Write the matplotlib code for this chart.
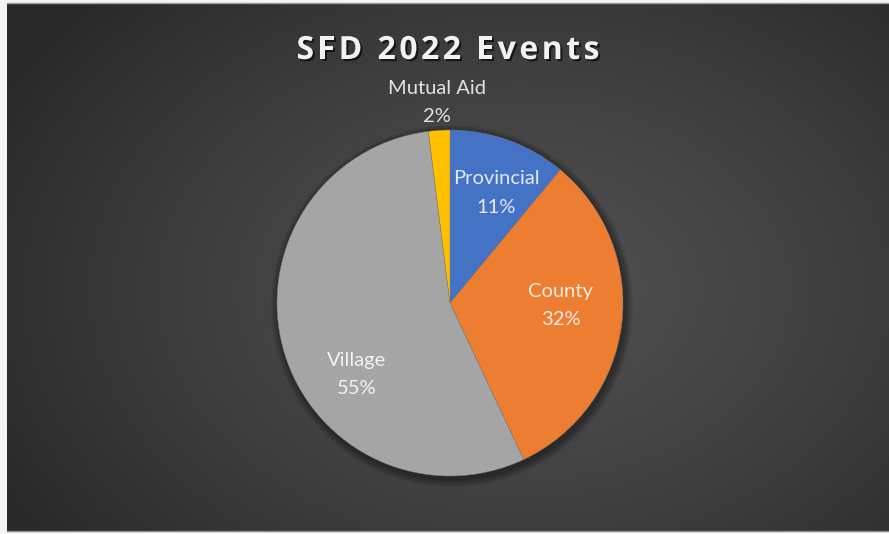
import numpy as np
import matplotlib
matplotlib.use("Agg")
import matplotlib.pyplot as plt
import matplotlib.patheffects as pe
from matplotlib.patches import Circle
from matplotlib.font_manager import FontProperties, findfont
from matplotlib.ft2font import FT2Font

# ---- data ----
categories = ["Provincial", "County", "Village", "Mutual Aid"]
values = [11, 32, 55, 2]
colors = ["#4472C4", "#ED7D31", "#A5A5A5", "#FFC000"]
title = "SFD 2022 Events"

# ---- style / layout ----
W, H = 889, 534
label_dist = [0.69, 0.64, 0.68, 1.16]
label_rot = [-3, 6, 21, 0]   # angular nudges (degrees) for label placement

fig = plt.figure(figsize=(W / 100, H / 100), dpi=100)
fig.patch.set_facecolor("#f4f4f4")

# background chart area with radial gradient
bg = fig.add_axes([0, 0, 1, 1])
yy, xx = np.mgrid[0:H, 0:W]
d = np.sqrt(((xx - 520) / 600.0) ** 2 + ((yy - 290) / 430.0) ** 2)
d = np.clip(d, 0, 1)
val = 0x50 - (0x50 - 0x29) * d ** 1.3
img = np.dstack([val, val, val]) / 255.0
bg.imshow(img, extent=(7, W, 3, 531), origin="upper", zorder=0, aspect="auto",
          interpolation="bilinear")
bg.plot([7, W], [531, 531], color="#9a9a9a", lw=1, zorder=1)
bg.plot([7, W], [3.5, 3.5], color="#8a8a8a", lw=1, zorder=1)

cx, cy, R = 450, H - 303, 173

# soft shadow under the pie
for k in range(8):
    bg.add_patch(Circle((cx + 2, cy - 3), R + 1 + k, facecolor="black",
                        edgecolor="none", alpha=0.05, zorder=1.5))

wedges, _ = bg.pie(values, colors=colors, startangle=90, counterclock=False,
                   center=(cx, cy), radius=R, frame=True,
                   wedgeprops=dict(edgecolor="#7a7a7a", linewidth=0.3, zorder=2))
bg.set_xlim(0, W)
bg.set_ylim(0, H)
bg.axis("off")

total = sum(values)
lab_font = FontProperties(family="Lato", size=14.5)
for w, cat, v, dist, rot in zip(wedges, categories, values, label_dist, label_rot):
    mid = np.deg2rad((w.theta1 + w.theta2) / 2 + rot)
    x = cx + dist * R * np.cos(mid)
    y = cy + dist * R * np.sin(mid)
    txt = f"{cat}\n{round(100 * v / total)}%"
    bg.text(x, y, txt, ha="center", va="center", fontproperties=lab_font,
            color="white", alpha=0.85, linespacing=1.8, zorder=5)

# title with letter spacing (advances from the font itself)
tsize = 23
tfont = FontProperties(family="Open Sans", weight="bold", size=tsize)
ft = FT2Font(findfont(tfont))
ft.set_size(tsize, 100)
advs = []
for ch in title:
    g = ft.load_char(ord(ch))
    advs.append(g.linearHoriAdvance / 65536.0)
target_w = 303.0
spacing = (target_w - sum(advs)) / (len(title) - 1)
x = 448 - target_w / 2
for ch, a in zip(title, advs):
    if ch != " ":
        bg.text(x, H - 59, ch, ha="left", va="baseline",
                fontproperties=tfont, color="#f2f2f2", zorder=6,
                path_effects=[pe.withSimplePatchShadow(offset=(1.5, -1.5), shadow_rgbFace="black", alpha=0.6)])
    x += a + spacing

fig.savefig("out.png", dpi=100, facecolor=fig.get_facecolor())
